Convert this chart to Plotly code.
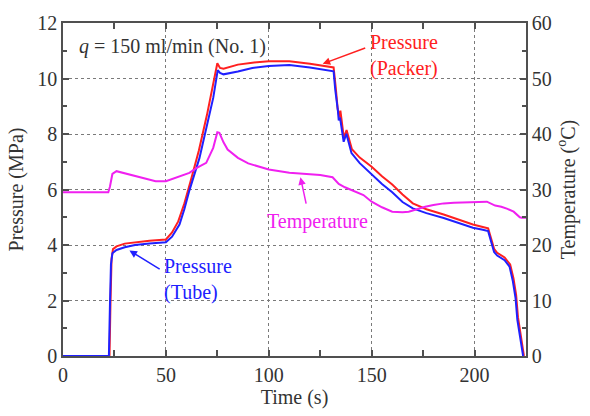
import plotly.graph_objects as go

# ---------------- data ----------------
tube_t = [0, 22.3, 22.8, 23.3, 24, 26, 30, 35, 42, 50, 53, 56.6, 59, 61.4, 66.3, 70, 73, 75.2, 76.3, 78,
          85, 92, 100, 110, 120, 131.5, 132.3, 133.6, 134, 134.6, 136.4, 137.7, 140.2, 144.2, 150, 155,
          160, 165, 170, 176.6, 185, 193, 199.2, 204, 206.6, 209.5, 211, 214.6, 217, 218.6, 219.9,
          220.8, 222, 223.6]
tube_p = [0, 0, 1.8, 3.3, 3.7, 3.82, 3.92, 4.0, 4.05, 4.1, 4.3, 4.74, 5.3, 5.96, 7.13, 8.3, 9.3, 10.3, 10.2,
          10.15, 10.25, 10.38, 10.45, 10.49, 10.4, 10.26, 9.6, 8.83, 8.49, 8.6, 7.72, 8.01, 7.31, 6.95, 6.55,
          6.2, 5.9, 5.55, 5.32, 5.15, 4.97, 4.78, 4.62, 4.55, 4.5, 3.75, 3.62, 3.45, 3.22, 2.7, 2.1,
          1.3, 0.7, 0]

packer_t = [0, 22.6, 23.1, 23.6, 24.3, 26, 30, 35, 42, 50, 53, 56, 59, 62, 66, 70, 73, 75, 76.3, 78,
            85, 92, 100, 110, 120, 131.5, 132.5, 133.5, 134.3, 134.8, 136.5, 137.8, 140.4, 144.2, 150, 155,
            160, 165, 170, 176.6, 185, 193, 199.2, 204, 206.6, 209.5, 211, 214.6, 217.3, 218.9, 220.2,
            221.1, 222.3, 224]
packer_p = [0, 0, 2.0, 3.5, 3.85, 3.95, 4.05, 4.1, 4.15, 4.2, 4.45, 4.85, 5.5, 6.3, 7.4, 8.7, 9.8, 10.55, 10.38,
            10.35, 10.5, 10.57, 10.62, 10.62, 10.53, 10.4, 9.7, 8.9, 8.6, 8.84, 7.85, 8.14, 7.45, 7.15, 6.82,
            6.48, 6.18, 5.82, 5.5, 5.29, 5.1, 4.9, 4.74, 4.65, 4.6, 3.86, 3.72, 3.55, 3.3, 2.8, 2.2,
            1.4, 0.8, 0]

temp_t = [0, 10, 22, 22.8, 24, 26, 30, 35, 40, 45, 50, 55, 61.4, 65, 69.6, 73, 75, 76, 78, 80, 85, 90,
          100, 110, 115, 120, 125, 131, 134, 137, 142, 146, 150, 155, 160, 165, 168, 172, 176, 180, 185,
          190, 195, 200, 206, 210, 213, 216, 219, 222, 223, 225]
temp_c = [29.5, 29.5, 29.5, 30.5, 32.8, 33.3, 32.9, 32.4, 31.9, 31.5, 31.5, 32.1, 33.0, 33.9, 34.8, 37.5, 40.3,
          40.2, 38.5, 37.2, 35.7, 34.7, 33.6, 33.0, 32.9, 32.8, 32.6, 32.2, 31.0, 30.4, 29.7, 29.0, 27.8,
          26.8, 26.0, 25.9, 26.0, 26.5, 26.9, 27.2, 27.5, 27.6, 27.7, 27.7, 27.8, 27.1, 26.9, 26.5, 26.0,
          25.0, 24.9, 24.9]

x_ticks = [0, 50, 100, 150, 200]
y_ticks = [0, 2, 4, 6, 8, 10, 12]
y2_ticks = [0, 10, 20, 30, 40, 50, 60]

RED = "#ff2020"
BLUE = "#2020ff"
MAG = "#f020f0"
FONT = "Liberation Serif"
AX = "#505050"
FS = 20

fig = go.Figure()
fig.add_trace(go.Scatter(x=temp_t, y=temp_c, mode="lines", line=dict(color=MAG, width=2), yaxis="y2",
                         showlegend=False))
fig.add_trace(go.Scatter(x=packer_t, y=packer_p, mode="lines", line=dict(color=RED, width=2), showlegend=False))
fig.add_trace(go.Scatter(x=tube_t, y=tube_p, mode="lines", line=dict(color=BLUE, width=2), showlegend=False))

axis_common = dict(showline=True, linecolor=AX, linewidth=1.5, ticks="inside", ticklen=6, tickcolor=AX,
                   tickwidth=1.5, tickfont=dict(family=FONT, size=FS, color="#333"), zeroline=False)

fig.update_layout(
    width=590, height=416,
    margin=dict(l=63, r=64, t=18, b=56),
    plot_bgcolor="white", paper_bgcolor="white",
    font=dict(family=FONT, size=FS, color="#333"),
    xaxis=dict(range=[0, 225], tickvals=x_ticks, mirror="allticks",
               showgrid=True, gridcolor="#7a7a7a", griddash="dot", gridwidth=1.2,
               minor=dict(ticks="inside", dtick=25, tick0=0, ticklen=4, tickcolor=AX, showgrid=False),
               title=dict(text="Time (s)", font=dict(family=FONT, size=FS, color="#333"), standoff=4),
               **axis_common),
    yaxis=dict(range=[0, 12], tickvals=y_ticks, mirror=False,
               showgrid=True, gridcolor="#7a7a7a", griddash="dot", gridwidth=1.2,
               minor=dict(ticks="inside", dtick=1, tick0=0, ticklen=4, tickcolor=AX, showgrid=False),
               title=dict(text="Pressure (MPa)", font=dict(family=FONT, size=FS, color="#333"), standoff=8),
               **axis_common),
    yaxis2=dict(range=[0, 60], tickvals=y2_ticks, overlaying="y", side="right", showgrid=False,
                minor=dict(ticks="inside", dtick=5, tick0=0, ticklen=4, tickcolor=AX, showgrid=False),
                title=dict(text="Temperature (<sup>o</sup>C)", font=dict(family=FONT, size=FS, color="#333"),
                           standoff=10),
                **axis_common),
)

anns = [
    dict(x=7, y=11.17, xref="x", yref="y", text="<i>q</i> = 150 ml/min (No. 1)", showarrow=False,
         xanchor="left", yanchor="middle", font=dict(family=FONT, size=FS, color="#333")),
    dict(x=148, y=10.82, xref="x", yref="y", text="Pressure<br>(Packer)", showarrow=False, align="left",
         xanchor="left", yanchor="middle", font=dict(family=FONT, size=FS, color=RED)),
    dict(x=126.2, y=10.53, ax=147.6, ay=11.12, xref="x", yref="y", axref="x", ayref="y", text="",
         showarrow=True, arrowhead=2, arrowsize=1, arrowwidth=1.5, arrowcolor=RED),
    dict(x=47.9, y=2.75, xref="x", yref="y", text="Pressure<br>(Tube)", showarrow=False, align="left",
         xanchor="left", yanchor="middle", font=dict(family=FONT, size=FS, color=BLUE)),
    dict(x=32.3, y=3.8, ax=47.7, ay=3.1, xref="x", yref="y", axref="x", ayref="y", text="",
         showarrow=True, arrowhead=2, arrowsize=1, arrowwidth=1.5, arrowcolor=BLUE),
    dict(x=123.8, y=4.85, xref="x", yref="y", text="Temperature", showarrow=False,
         xanchor="center", yanchor="middle", font=dict(family=FONT, size=FS, color=MAG)),
    dict(x=115.4, y=32.2, ax=118.3, ay=27.2, xref="x", yref="y2", axref="x", ayref="y2", text="",
         showarrow=True, arrowhead=2, arrowsize=1, arrowwidth=1.5, arrowcolor=MAG),
]
fig.update_layout(annotations=anns)

fig.write_html("out.html")
